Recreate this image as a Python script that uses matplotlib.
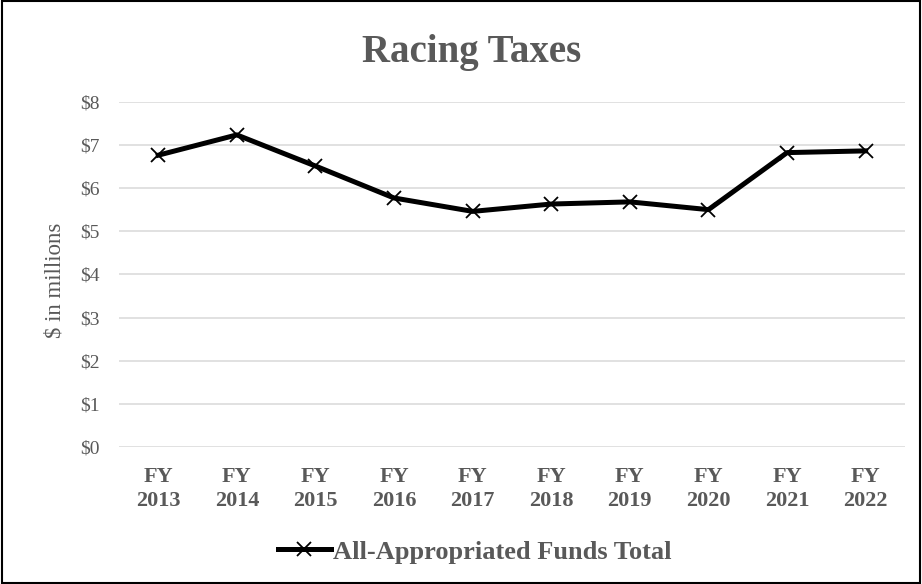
import matplotlib
matplotlib.use('Agg')
import matplotlib.pyplot as plt
from matplotlib.patches import Rectangle

years = ['FY\n2013', 'FY\n2014', 'FY\n2015', 'FY\n2016', 'FY\n2017',
         'FY\n2018', 'FY\n2019', 'FY\n2020', 'FY\n2021', 'FY\n2022']
totals = [6.76, 7.23, 6.51, 5.77, 5.46, 5.63, 5.68, 5.50, 6.82, 6.86]
y_ticks = [0, 1, 2, 3, 4, 5, 6, 7, 8]
y_labels = ['$' + str(v) for v in y_ticks]

plt.rcParams['font.family'] = ['Liberation Serif', 'DejaVu Serif']
gray = '#595959'

fig = plt.figure(figsize=(9.22, 5.84), dpi=100)
ax = fig.add_axes([0.129, 0.234, 0.8525, 0.592])

x = range(len(years))
ax.plot(x, totals, color='black', lw=3.6, marker='x', ms=9.5, mew=1.3,
        solid_joinstyle='round', label='All-Appropriated Funds Total', zorder=3)

ax.set_xlim(-0.5, len(years) - 0.5)
ax.set_ylim(0, 8)
ax.set_yticks(y_ticks)
ax.set_yticklabels(y_labels, fontsize=14, color=gray)
ax.set_xticks(list(x))
ax.set_xticklabels(years, fontsize=16, fontweight='bold', color=gray, linespacing=1.25)
ax.tick_params(axis='y', length=0, pad=14)
ax.tick_params(axis='x', length=0, pad=14)
ax.grid(axis='y', color='#d9d9d9', lw=1.1)
ax.set_axisbelow(True)
for s in ax.spines.values():
    s.set_visible(False)

fig.text(55 / 922, 0.52, '$ in millions', rotation=90, ha='center', va='center',
         fontsize=16.5, color=gray)
fig.text(0.512, 0.8933, 'Racing Taxes', ha='center', va='baseline', fontsize=28,
         fontweight='bold', color=gray)

leg = fig.legend(loc='center', bbox_to_anchor=(0.515, 0.055), frameon=False,
                 prop={'size': 19, 'weight': 'bold'}, handlelength=2.0,
                 handletextpad=0.1)
for t in leg.get_texts():
    t.set_color(gray)

fig.patches.append(Rectangle((0.002, 0.002), 0.996, 0.996, transform=fig.transFigure,
                             fill=False, edgecolor='black', lw=1.5))

fig.savefig('out.png', dpi=100)
